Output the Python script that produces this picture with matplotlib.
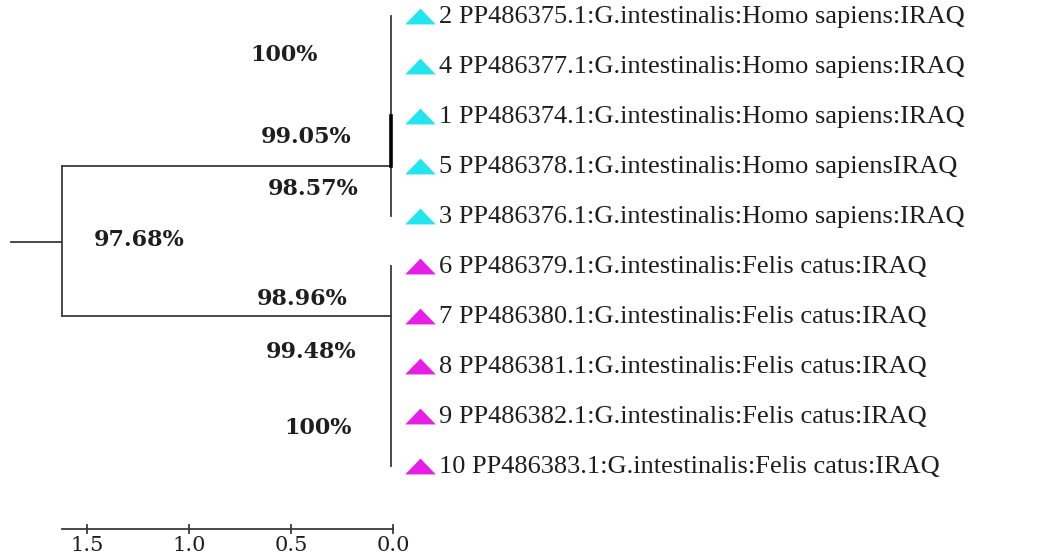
import numpy as np
import matplotlib.pyplot as plt

# leaves, top to bottom
leaf_labels = [
    '2 PP486375.1:G.intestinalis:Homo sapiens:IRAQ',
    '4 PP486377.1:G.intestinalis:Homo sapiens:IRAQ',
    '1 PP486374.1:G.intestinalis:Homo sapiens:IRAQ',
    '5 PP486378.1:G.intestinalis:Homo sapiensIRAQ',
    '3 PP486376.1:G.intestinalis:Homo sapiens:IRAQ',
    '6 PP486379.1:G.intestinalis:Felis catus:IRAQ',
    '7 PP486380.1:G.intestinalis:Felis catus:IRAQ',
    '8 PP486381.1:G.intestinalis:Felis catus:IRAQ',
    '9 PP486382.1:G.intestinalis:Felis catus:IRAQ',
    '10 PP486383.1:G.intestinalis:Felis catus:IRAQ',
]
leaf_group = [0, 0, 0, 0, 0, 1, 1, 1, 1, 1]
group_colors = ['#22e5ee', '#e61ee6']

# tree heights (distance)
root_h = 1.62
stub_h = 1.87
clade_h = [0.008, 0.008]
clade_rows = [(0, 4), (5, 9)]
root_join_rows = [3, 6]

# support values and where they sit (distance, row)
support = ['100%', '99.05%', '98.57%', '97.68%', '98.96%', '99.48%', '100%']
support_pos = [(0.534, 0.77), (0.426, 2.41), (0.392, 3.46), (1.245, 4.48),
               (0.446, 5.66), (0.402, 6.72), (0.368, 8.25)]

scale_ticks = [1.5, 1.0, 0.5, 0.0]

plt.rcParams['font.family'] = ['Liberation Serif', 'DejaVu Serif']
line_col = '#3a3a3a'
txt_col = '#1e1e1e'

# wide, flat triangle (the source image is stretched sideways)
tri = [(-1.0, -0.52), (1.0, -0.52), (0.0, 0.52), (-1.0, -0.52)]

fig = plt.figure(figsize=(10.41, 5.54), dpi=100)
ax = fig.add_axes([0, 0, 1, 1])
ax.set_xlim(1.926, -3.176)
ax.set_ylim(10.77, -0.33)
ax.axis('off')

# root stub and root vertical
root_row = 4.51
ax.plot([stub_h, root_h], [root_row, root_row], color=line_col, lw=1.3)
ax.plot([root_h, root_h], root_join_rows, color=line_col, lw=1.3)
for k in range(2):
    r = root_join_rows[k]
    ax.plot([root_h, clade_h[k]], [r, r], color=line_col, lw=1.3)
    r0, r1 = clade_rows[k]
    ax.plot([clade_h[k], clade_h[k]], [r0, r1], color=line_col, lw=1.3)
# thicker inner segment of the first clade
ax.plot([clade_h[0], clade_h[0]], [2, 3], color='black', lw=2.6)

# leaf markers and labels
for i, lab in enumerate(leaf_labels):
    ax.plot(-0.132, i, marker=tri, ms=22, mew=0,
            color=group_colors[leaf_group[i]])
    ax.text(-0.225, i + 0.02, lab, ha='left', va='center', fontsize=19,
            color=txt_col)

# support labels
for s, (d, r) in zip(support, support_pos):
    ax.text(d, r, s, ha='center', va='center', fontsize=16,
            fontweight='bold', color=txt_col, family='DejaVu Serif')

# scale bar
bar_row = 10.27
ax.plot([root_h, 0.0], [bar_row, bar_row], color=line_col, lw=1.3)
for t in scale_ticks:
    ax.plot([t, t], [bar_row - 0.08, bar_row + 0.08], color=line_col, lw=1.3)
    ax.text(t, bar_row + 0.33, '%.1f' % t, ha='center', va='center',
            fontsize=15, color=txt_col, family='DejaVu Serif')

plt.savefig('out.png', dpi=100)
